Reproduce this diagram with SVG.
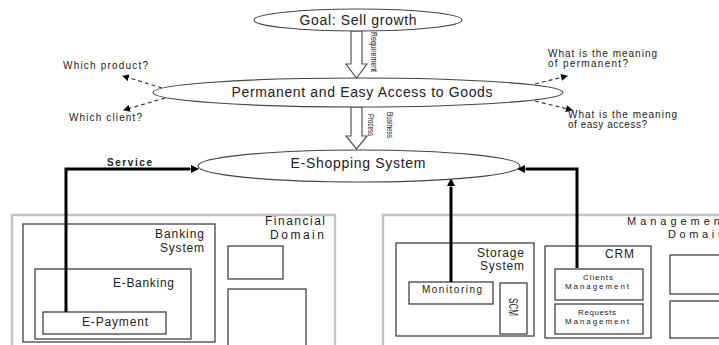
<svg xmlns="http://www.w3.org/2000/svg" width="719" height="345" viewBox="0 0 719 345">
<style>
text{font-family:"Liberation Sans","DejaVu Sans",sans-serif;fill:#222}
.ell{fill:#fff;stroke:#444;stroke-width:1.2}
.box{fill:#fff;stroke:#333;stroke-width:1.2}
.dom{fill:#fff;stroke:#c4c4c4;stroke-width:2.5}
.hol{fill:#fff;stroke:#555;stroke-width:1.2}
.dash{fill:none;stroke:#333;stroke-width:1.1;stroke-dasharray:4,3}
.thick{fill:none;stroke:#000;stroke-width:3}
.t14{font-size:14px}
.t12{font-size:12px}
.t11{font-size:11px}
.t10{font-size:10px}
.t8{font-size:8px}
.rot{font-size:9px}
</style>
<defs>
<marker id="ah" markerWidth="8" markerHeight="8" refX="7" refY="4" orient="auto" markerUnits="userSpaceOnUse">
<path d="M0,0 L8,4 L0,8 z" fill="#000"/>
</marker>
<marker id="ahs" markerWidth="7" markerHeight="7" refX="6" refY="3.5" orient="auto" markerUnits="userSpaceOnUse">
<path d="M0,0 L7,3.5 L0,7 z" fill="#000"/>
</marker>
</defs>

<g id="financial-domain">
<rect class="dom" x="12" y="215" width="323" height="140"/>
<text class="t12" x="325" y="225" text-anchor="end" textLength="60">Financial</text>
<text class="t12" x="324" y="239" text-anchor="end" textLength="54">Domain</text>
<rect class="box" x="228" y="246" width="55" height="33"/>
<rect class="box" x="228" y="289" width="78" height="60"/>
</g>
<g id="banking-system">
<rect class="box" x="23" y="224" width="192" height="118"/>
<text class="t12" x="204" y="238" text-anchor="end" textLength="49">Banking</text>
<text class="t12" x="204" y="252" text-anchor="end" textLength="44">System</text>
</g>
<g id="e-banking">
<rect class="box" x="35" y="269" width="156" height="70"/>
<text class="t12" x="174" y="287" text-anchor="end" textLength="61">E-Banking</text>
</g>
<g id="e-payment">
<rect class="box" x="43" y="312" width="123" height="22"/>
<text class="t12" x="82" y="326" textLength="66">E-Payment</text>
</g>

<g id="management-domain">
<rect class="dom" x="383" y="215" width="360" height="140"/>
<text class="t11" x="627" y="225" textLength="100">Management</text>
<text class="t11" x="668" y="238" textLength="56">Domain</text>
<rect class="box" x="670" y="255" width="60" height="39"/>
<rect class="box" x="670" y="301" width="60" height="37"/>
</g>
<g id="storage-system">
<rect class="box" x="396" y="243" width="138" height="93"/>
<text class="t12" x="524" y="257" text-anchor="end" textLength="47">Storage</text>
<text class="t12" x="524" y="270" text-anchor="end" textLength="44">System</text>
</g>
<g id="monitoring">
<rect class="box" x="409" y="282" width="84" height="22"/>
<text class="t10" x="422" y="293" textLength="60">Monitoring</text>
</g>
<g id="scm">
<rect class="box" x="500" y="283" width="27" height="51"/>
<text class="t12" transform="translate(509,298) rotate(90)" textLength="18" lengthAdjust="spacingAndGlyphs">SCM</text>
</g>
<g id="crm">
<rect class="box" x="545" y="246" width="106" height="92"/>
<text class="t12" x="634" y="258" text-anchor="end" textLength="29">CRM</text>
</g>
<g id="clients-management">
<rect class="box" x="555" y="269" width="88" height="31"/>
<text class="t8" x="598" y="280" text-anchor="middle" textLength="30">Clients</text>
<text class="t8" x="597" y="289" text-anchor="middle" textLength="64">Management</text>
</g>
<g id="requests-management">
<rect class="box" x="555" y="304" width="88" height="30"/>
<text class="t8" x="597" y="315" text-anchor="middle" textLength="38">Requests</text>
<text class="t8" x="597" y="324" text-anchor="middle" textLength="64">Management</text>
</g>

<g id="connectors">
<polygon class="hol" points="351,31 362,31 362,64 367,64 356.5,78 346,64 351,64"/>
<text class="rot" transform="translate(371,32) rotate(90)" textLength="40" lengthAdjust="spacingAndGlyphs">Requirement</text>
<polygon class="hol" points="351,107 362,107 362,136 367,136 356.5,149 346,136 351,136"/>
<text class="rot" transform="translate(387,112) rotate(90)" textLength="26" lengthAdjust="spacingAndGlyphs">Business</text>
<text class="rot" transform="translate(368,114) rotate(90)" textLength="22" lengthAdjust="spacingAndGlyphs">Process</text>

<line class="dash" x1="162" y1="88" x2="123" y2="76" marker-end="url(#ahs)"/>
<line class="dash" x1="165" y1="98" x2="124" y2="110" marker-end="url(#ahs)"/>
<line class="dash" x1="535" y1="84" x2="567" y2="76" marker-end="url(#ahs)"/>
<line class="dash" x1="535" y1="101" x2="572" y2="110" marker-end="url(#ahs)"/>

<polyline class="thick" points="66,312 66,169 190,169"/>
<line x1="189" y1="169" x2="198" y2="169" stroke="#000" stroke-width="1" marker-end="url(#ah)"/>
<text x="107" y="166" style="font-size:10px;font-weight:bold" textLength="45">Service</text>
<line class="thick" x1="451" y1="282" x2="451" y2="187"/>
<line x1="451" y1="188" x2="451" y2="179" stroke="#000" stroke-width="1" marker-end="url(#ah)"/>
<polyline class="thick" points="577,268 577,169 526,169"/>
<line x1="527" y1="169" x2="518" y2="169" stroke="#000" stroke-width="1" marker-end="url(#ah)"/>
</g>

<g id="goal">
<ellipse class="ell" cx="358" cy="20" rx="104" ry="11"/>
<text class="t14" x="358" y="25" text-anchor="middle" textLength="117">Goal: Sell growth</text>
</g>
<g id="permanent-access">
<ellipse class="ell" cx="358" cy="92.5" rx="205" ry="14.5"/>
<text class="t14" x="362" y="97" text-anchor="middle" textLength="261">Permanent and Easy Access to Goods</text>
</g>
<g id="e-shopping">
<ellipse class="ell" cx="359" cy="166" rx="161" ry="16"/>
<text class="t14" x="358" y="168" text-anchor="middle" textLength="135">E-Shopping System</text>
</g>
<g id="questions">
<text class="t10" x="63" y="69" textLength="85">Which product?</text>
<text class="t10" x="69" y="121" textLength="73">Which client?</text>
<text class="t10" x="548" y="57" textLength="109">What is the meaning</text>
<text class="t10" x="548" y="67" textLength="80">of permanent?</text>
<text class="t10" x="568" y="118" textLength="109">What is the meaning</text>
<text class="t10" x="568" y="128" textLength="79">of easy access?</text>
</g>
</svg>
